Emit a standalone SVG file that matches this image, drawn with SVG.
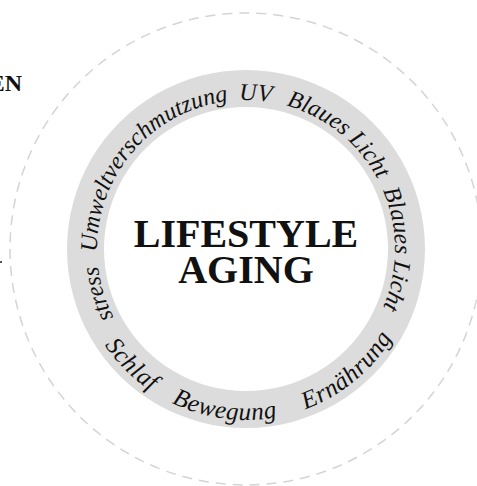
<svg xmlns="http://www.w3.org/2000/svg" xmlns:xlink="http://www.w3.org/1999/xlink" width="477" height="486" viewBox="0 0 477 486">
  <style>
    .ring-text { font-family: "Liberation Serif", "Times New Roman", serif; font-style: italic; font-size: 24px; fill: #111; }
    .bottom { font-size: 25px; letter-spacing: 0.6px; }
    .title { font-family: "Liberation Serif", "Times New Roman", serif; font-weight: bold; font-size: 40px; fill: #111; text-anchor: middle; }
    .edge { font-family: "Liberation Serif", "Times New Roman", serif; font-weight: bold; font-size: 24px; fill: #111; }
  </style>
  <defs>
    <path id="topPath" d="M 246 398 A 149 149 0 1 1 246 100 A 149 149 0 1 1 246 398"/>
    <path id="bottomPath" d="M 246 78 A 171 171 0 1 0 246 420 A 171 171 0 1 0 246 78"/>
  </defs>
  <rect width="477" height="486" fill="#ffffff"/>
  <g id="outer-circle">
    <circle cx="246" cy="249" r="236" fill="none" stroke="#d4d4d4" stroke-width="1.5" stroke-dasharray="10 7"/>
  </g>
  <g id="edge-label">
    <text class="edge" x="22" y="91" text-anchor="end">EN</text>
    <rect x="0" y="261" width="2" height="2" fill="#555"/>
  </g>
  <g id="ring">
    <path d="M 246 70 A 179 179 0 1 1 245.99 70 Z M 246 107 A 142 142 0 1 0 246.01 107 Z" fill="#dcdcdc" fill-rule="evenodd"/>
  </g>
  <g id="ring-labels">
    <text class="ring-text" text-anchor="middle"><textPath xlink:href="#topPath" href="#topPath" startOffset="20.3%">stress</textPath></text>
    <text class="ring-text" text-anchor="middle"><textPath xlink:href="#topPath" href="#topPath" startOffset="36.4%">Umweltverschmutzung</textPath></text>
    <text class="ring-text" text-anchor="middle"><textPath xlink:href="#topPath" href="#topPath" startOffset="51%">UV</textPath></text>
    <text class="ring-text" text-anchor="middle"><textPath xlink:href="#topPath" href="#topPath" startOffset="60.8%">Blaues Licht</textPath></text>
    <text class="ring-text" text-anchor="middle"><textPath xlink:href="#topPath" href="#topPath" startOffset="75%">Blaues Licht</textPath></text>
    <text class="ring-text bottom" text-anchor="middle"><textPath xlink:href="#bottomPath" href="#bottomPath" startOffset="37.6%">Schlaf</textPath></text>
    <text class="ring-text bottom" text-anchor="middle"><textPath xlink:href="#bottomPath" href="#bottomPath" startOffset="47.9%">Bewegung</textPath></text>
    <text class="ring-text bottom" text-anchor="middle"><textPath xlink:href="#bottomPath" href="#bottomPath" startOffset="61%">Ernährung</textPath></text>
  </g>
  <g id="center">
    <text class="title" x="246" y="247">LIFESTYLE</text>
    <text class="title" x="246" y="283">AGING</text>
  </g>
</svg>
